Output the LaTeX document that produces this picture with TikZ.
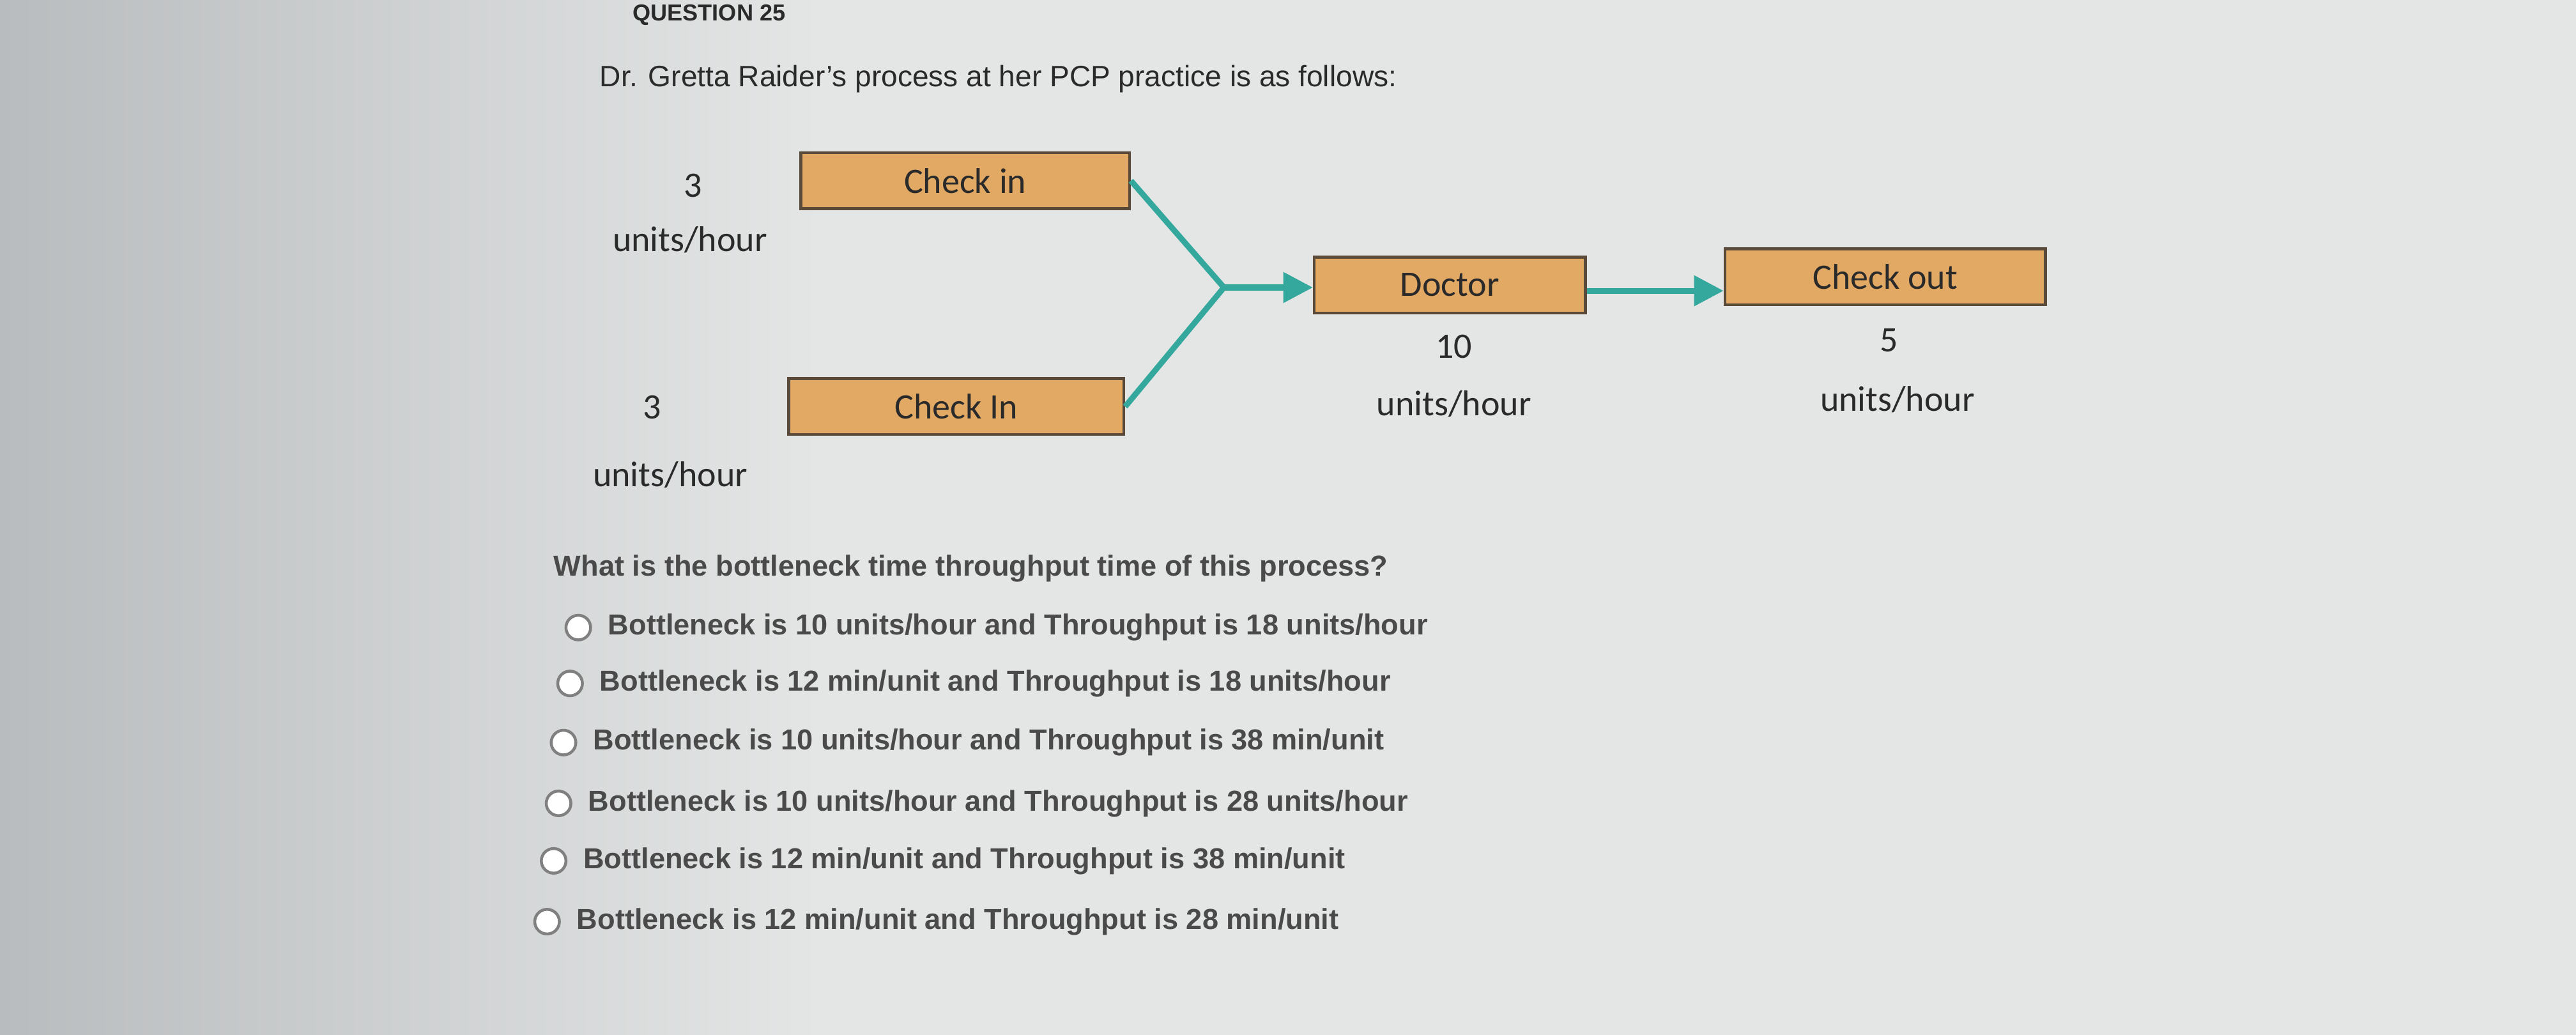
\documentclass[tikz,border=0pt]{standalone}
\usepackage{fontspec}
\setmainfont{Liberation Sans}
\newfontfamily\carlitofont{Carlito}
\usetikzlibrary{arrows.meta}
\definecolor{boxfill}{HTML}{E2A965}
\definecolor{boxline}{HTML}{5A4A3A}
\definecolor{teal2}{HTML}{35A89E}
\definecolor{txt}{HTML}{2A2A2A}
\definecolor{bgl}{HTML}{B9BCBE}
\definecolor{bgm}{HTML}{E4E6E6}
\tikzset{
  stepbox/.style={draw=boxline,line width=2.5pt,fill=boxfill,minimum height=1.7cm,inner sep=0pt,font=\carlitofont\fontsize{31}{35}\selectfont,text=txt},
  lbl/.style={font=\carlitofont\fontsize{31}{35}\selectfont,text=txt,inner sep=0pt},
  qt/.style={font=\bfseries\fontsize{25}{29}\selectfont,text=txt!85,anchor=west,inner sep=0pt},
  flow/.style={draw=teal2,line width=5pt},
  radio/.style={circle,draw=gray,line width=2.5pt,fill=white,minimum size=0.75cm,inner sep=0pt}
}
\begin{document}
\begin{tikzpicture}[x=0.05cm,y=-0.05cm]
\shade[left color=bgl,right color=bgm] (0,0) rectangle (500,630);
\fill[bgm] (499,0) rectangle (1568,630);
\useasboundingbox (0,0) rectangle (1568,630);
\node[font=\bfseries\fontsize{20}{24}\selectfont,text=txt,anchor=west,inner sep=0pt] (q25) at (385,9) {QUESTION 25};
\node[font=\fontsize{25.5}{29}\selectfont,text=txt,anchor=west,inner sep=0pt] (title) at (365,48) {Dr. Gretta Raider's process at her PCP practice is as follows:};
\node[stepbox,minimum width=10cm] (ci1) at (587.5,110) {Check in};
\node[stepbox,minimum width=10.2cm] (ci2) at (582,247.5) {Check In};
\node[stepbox,minimum width=8.25cm] (doc) at (882.5,173.5) {Doctor};
\node[stepbox,minimum width=9.75cm] (co) at (1147.5,168.5) {Check out};
\node[lbl] (r1a) at (422,113) {3};
\node[lbl] (r1b) at (420,146) {units/hour};
\node[lbl] (r2a) at (397,248) {3};
\node[lbl] (r2b) at (408,289) {units/hour};
\node[lbl] (r3a) at (885,211) {10};
\node[lbl] (r3b) at (885,246) {units/hour};
\node[lbl] (r4a) at (1150,207) {5};
\node[lbl] (r4b) at (1155,243) {units/hour};
\coordinate (j) at (745,175);
\draw[flow] (ci1.east) -- (j);
\draw[flow] (ci2.east) -- (j);
\draw[flow,-{Triangle[length=0.9cm,width=0.9cm]}] (j) -- (doc.west |- j);
\draw[flow,-{Triangle[length=0.9cm,width=0.9cm]}] (doc.east |- 0,177) -- (co.west |- 0,177);
\node[qt] (q) at (337,346) {What is the bottleneck time throughput time of this process?};
\foreach \i/\x/\y/\t in {
 1/352/382/{Bottleneck is 10 units/hour and Throughput is 18 units/hour},
 2/347/416/{Bottleneck is 12 min/unit and Throughput is 18 units/hour},
 3/343/452/{Bottleneck is 10 units/hour and Throughput is 38 min/unit},
 4/340/489/{Bottleneck is 10 units/hour and Throughput is 28 units/hour},
 5/337/524/{Bottleneck is 12 min/unit and Throughput is 38 min/unit},
 6/333/561/{Bottleneck is 12 min/unit and Throughput is 28 min/unit}}{
  \node[radio] (c\i) at (\x,\y) {};
  \node[qt] (o\i) at (\x+18,\y) {\t};
}
\end{tikzpicture}
\end{document}
